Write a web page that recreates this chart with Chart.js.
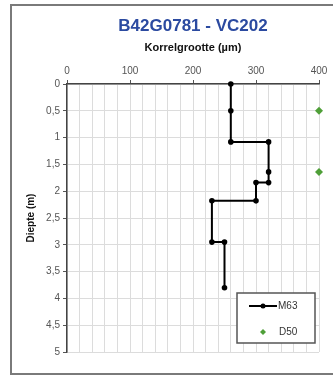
<!DOCTYPE html>
<html>
<head>
<meta charset="utf-8">
<script src="https://cdn.jsdelivr.net/npm/chart.js@4"></script>
<style>
  html, body { margin: 0; padding: 0; background: #fff; }
  #wrap { width: 333px; height: 376px; position: relative; }
</style>
</head>
<body>
<div id="wrap"><canvas id="chart" width="333" height="376"></canvas></div>
<script>
// M63 step profile (grain size in µm against depth in m)
const m63Size  = [260, 260, 260, 320, 320, 320, 300, 300, 230, 230, 250, 250];
const m63Depth = [0, 0.5, 1.08, 1.08, 1.64, 1.84, 1.84, 2.18, 2.18, 2.95, 2.95, 3.8];
// D50 samples
const d50Size  = [400, 400];
const d50Depth = [0.5, 1.64];

const titleText = "B42G0781 - VC202";
const xTitle = "Korrelgrootte (µm)";
const yTitle = "Diepte (m)";

const toPoints = (xs, ys) => xs.map((x, i) => ({ x: x, y: ys[i] }));

// frame + main title
const framePlugin = {
  id: 'frame',
  beforeDraw(chart) {
    const c = chart.ctx;
    c.save();
    c.fillStyle = '#fff';
    c.fillRect(0, 0, chart.width, chart.height);
    c.strokeStyle = '#7a7a7a';
    c.lineWidth = 2;
    c.beginPath();
    c.moveTo(333, 5);
    c.lineTo(11, 5);
    c.lineTo(11, 374);
    c.lineTo(333, 374);
    c.stroke();
    c.restore();
  },
  afterDraw(chart) {
    const c = chart.ctx;
    const a = chart.chartArea;
    c.save();
    c.font = 'bold 17px "Liberation Sans", Arial, sans-serif';
    c.fillStyle = '#2b4aa0';
    c.textAlign = 'center';
    c.textBaseline = 'middle';
    c.fillText(titleText, (a.left + a.right) / 2, 26);
    c.restore();
  }
};

// legend box inside the plot
const legendPlugin = {
  id: 'boxLegend',
  afterDraw(chart) {
    const c = chart.ctx;
    const x0 = 237, y0 = 293, w = 78, h = 50;
    c.save();
    c.fillStyle = '#fff';
    c.fillRect(x0, y0, w, h);
    c.strokeStyle = '#555';
    c.lineWidth = 1.5;
    c.strokeRect(x0, y0, w, h);
    c.font = '10px "Liberation Sans", Arial, sans-serif';
    c.fillStyle = '#333';
    c.textBaseline = 'middle';
    // M63
    c.strokeStyle = '#000';
    c.lineWidth = 2;
    c.beginPath();
    c.moveTo(249, 306);
    c.lineTo(277, 306);
    c.stroke();
    c.fillStyle = '#000';
    c.beginPath();
    c.arc(263, 306, 2.5, 0, Math.PI * 2);
    c.fill();
    c.fillStyle = '#333';
    c.fillText('M63', 278, 306);
    // D50
    c.fillStyle = '#4f9f38';
    c.beginPath();
    c.moveTo(263, 329);
    c.lineTo(266, 332);
    c.lineTo(263, 335);
    c.lineTo(260, 332);
    c.closePath();
    c.fill();
    c.fillStyle = '#333';
    c.fillText('D50', 279, 332);
    c.restore();
  }
};

const ctx = document.getElementById('chart').getContext('2d');

new Chart(ctx, {
  type: 'scatter',
  data: {
    datasets: [
      {
        label: 'M63',
        data: toPoints(m63Size, m63Depth),
        showLine: true,
        borderColor: '#000',
        borderWidth: 2,
        backgroundColor: '#000',
        pointRadius: 2.8,
        pointBorderWidth: 0,
        clip: false
      },
      {
        label: 'D50',
        data: toPoints(d50Size, d50Depth),
        showLine: false,
        pointStyle: 'rectRot',
        pointRadius: 4,
        backgroundColor: '#4f9f38',
        borderColor: '#4f9f38',
        pointBorderWidth: 0,
        clip: false
      }
    ]
  },
  plugins: [framePlugin, legendPlugin],
  options: {
    responsive: false,
    animation: false,
    layout: { padding: { top: 36, left: 17, right: 14, bottom: 24 } },
    plugins: {
      legend: { display: false },
      title: { display: false },
      tooltip: { enabled: false }
    },
    scales: {
      x: {
        type: 'linear',
        position: 'top',
        min: 0,
        max: 400,
        afterFit: s => { s.height = 48; },
        ticks: {
          stepSize: 20,
          autoSkip: false,
          maxRotation: 0,
          padding: 3,
          color: '#555',
          font: { size: 10, family: '"Liberation Sans", Arial, sans-serif' },
          callback: v => (v % 100 === 0 ? v : '')
        },
        grid: {
          color: '#dcdcdc',
          lineWidth: 1,
          tickLength: 4,
          tickColor: c => (c.tick && c.tick.value % 100 === 0 ? '#555' : 'rgba(0,0,0,0)')
        },
        border: { color: '#444', width: 1.5 },
        title: {
          display: true,
          text: xTitle,
          color: '#111',
          font: { size: 11, weight: 'bold', family: '"Liberation Sans", Arial, sans-serif' },
          padding: { top: 5, bottom: 0 }
        }
      },
      y: {
        type: 'linear',
        reverse: true,
        min: 0,
        max: 5,
        afterFit: s => { s.width = 50; },
        ticks: {
          stepSize: 0.5,
          padding: 3,
          color: '#555',
          font: { size: 10, family: '"Liberation Sans", Arial, sans-serif' },
          callback: v => String(v).replace('.', ',')
        },
        grid: {
          color: '#dcdcdc',
          lineWidth: 1,
          tickLength: 4,
          tickColor: '#555'
        },
        border: { color: '#444', width: 1.5 },
        title: {
          display: true,
          text: yTitle,
          color: '#111',
          font: { size: 10, weight: 'bold', family: '"Liberation Sans", Arial, sans-serif' },
          padding: { top: 8, bottom: 0 }
        }
      }
    }
  }
});
</script>
</body>
</html>
